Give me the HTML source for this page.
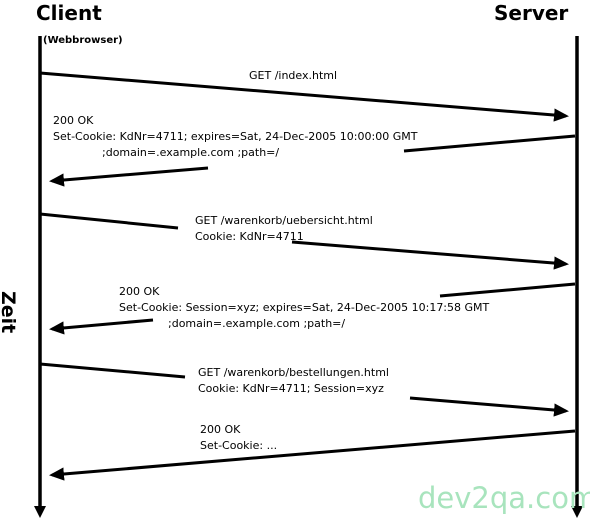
<!DOCTYPE html>
<html><head><style>
body{margin:0;background:#fff;width:590px;height:520px;overflow:hidden}
svg text{font-family:"DejaVu Sans","Liberation Sans",sans-serif}
</style></head><body>
<svg width="590" height="520" viewBox="0 0 590 520" xmlns="http://www.w3.org/2000/svg">
<defs><marker id="a" markerWidth="5" markerHeight="4.4" refX="4" refY="2.2" orient="auto" markerUnits="strokeWidth"><path d="M0,0 L5,2.2 L0,4.4 Z" fill="#000"/></marker></defs>
<g stroke="#000" stroke-width="3.5" fill="none">
<line x1="40" y1="36" x2="40" y2="508"/>
<line x1="577" y1="36" x2="577" y2="508"/>
</g>
<path d="M34,506 L46,506 L40,518Z M571,506 L583,506 L577,518Z" fill="#000"/>
<g stroke="#000" stroke-width="3" fill="none">
<line x1="40" y1="73" x2="566" y2="116" marker-end="url(#a)"/>
<line x1="575" y1="136" x2="404" y2="151"/>
<line x1="208" y1="168" x2="52" y2="181" marker-end="url(#a)"/>
<line x1="40" y1="214" x2="178" y2="228"/>
<line x1="292" y1="242" x2="566" y2="264" marker-end="url(#a)"/>
<line x1="575" y1="284" x2="440" y2="296"/>
<line x1="153" y1="320" x2="52" y2="329" marker-end="url(#a)"/>
<line x1="40" y1="364" x2="185" y2="377"/>
<line x1="410" y1="398" x2="566" y2="411" marker-end="url(#a)"/>
<line x1="575" y1="431" x2="52" y2="475" marker-end="url(#a)"/>
</g>
<g font-weight="bold" fill="#000">
<text x="36" y="20" font-size="20">Client</text>
<text x="494" y="20" font-size="20">Server</text>
<text x="43" y="43" font-size="10">(Webbrowser)</text>
<text transform="translate(2,291) rotate(90)" font-size="19">Zeit</text>
</g>
<g font-size="11" fill="#000">
<text x="249" y="79">GET /index.html</text>
<text x="53" y="124">200 OK</text>
<text x="53" y="140">Set-Cookie: KdNr=4711; expires=Sat, 24-Dec-2005 10:00:00 GMT</text>
<text x="102" y="156">;domain=.example.com ;path=/</text>
<text x="195" y="224">GET /warenkorb/uebersicht.html</text>
<text x="195" y="240">Cookie: KdNr=4711</text>
<text x="119" y="295">200 OK</text>
<text x="119" y="311">Set-Cookie: Session=xyz; expires=Sat, 24-Dec-2005 10:17:58 GMT</text>
<text x="168" y="327">;domain=.example.com ;path=/</text>
<text x="198" y="376">GET /warenkorb/bestellungen.html</text>
<text x="198" y="392">Cookie: KdNr=4711; Session=xyz</text>
<text x="200" y="433">200 OK</text>
<text x="200" y="449">Set-Cookie: ...</text>
</g>
<text x="418" y="508" font-size="29" fill="#a8e4bd" font-family="DejaVu Sans,sans-serif">dev2qa.com</text>
</svg>
</body></html>
